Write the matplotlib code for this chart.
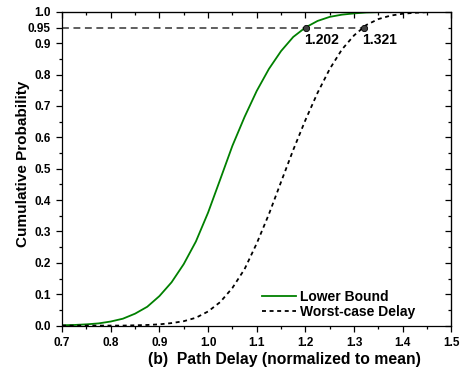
import matplotlib
matplotlib.use("Agg")
import matplotlib.pyplot as plt
from matplotlib.ticker import MultipleLocator

plt.rcParams['font.family'] = ['Liberation Sans', 'DejaVu Sans']
plt.rcParams['font.weight'] = 'bold'

# path delay (normalized to mean)
delay = [0.700, 0.725, 0.750, 0.775, 0.800, 0.825, 0.850, 0.875, 0.900, 0.925,
         0.950, 0.975, 1.000, 1.025, 1.050, 1.075, 1.100, 1.125, 1.150, 1.175,
         1.200, 1.225, 1.250, 1.275, 1.300, 1.325, 1.350, 1.375, 1.400, 1.425,
         1.450, 1.475, 1.500]

# cumulative probability
lower_bound = [0.001, 0.002, 0.004, 0.007, 0.013, 0.022, 0.038, 0.060, 0.094, 0.138,
               0.196, 0.268, 0.360, 0.466, 0.573, 0.665, 0.748, 0.818, 0.875, 0.920,
               0.950, 0.971, 0.984, 0.991, 0.995, 0.998, 0.999, 1.000, 1.000, 1.000,
               1.000, 1.000, 1.000]
worst_case = [0.000, 0.000, 0.000, 0.000, 0.000, 0.000, 0.001, 0.002, 0.004, 0.008,
              0.014, 0.025, 0.045, 0.075, 0.120, 0.180, 0.262, 0.355, 0.458, 0.560,
              0.655, 0.742, 0.818, 0.880, 0.925, 0.958, 0.977, 0.988, 0.994, 0.997,
              0.999, 1.000, 1.000]

# 95th percentile points
p95 = 0.95
p95_delay = [1.202, 1.321]
p95_labels = ['1.202', '1.321']

fig = plt.figure(figsize=(4.63, 3.70), dpi=100)
ax = fig.add_axes([0.134, 0.120, 0.841, 0.848])

ax.plot(delay, lower_bound, color='#008000', lw=1.3, label='Lower Bound')
ax.plot(delay, worst_case, color='black', lw=1.3, linestyle=(0, (2.2, 2.0)),
        label='Worst-case Delay')

# 0.95 reference line and markers
ax.plot([0.7, max(p95_delay)], [p95, p95], color='#333333', lw=1.1,
        linestyle=(0, (4.5, 3.0)))
ax.plot(p95_delay, [p95] * len(p95_delay), 'o', ms=4.5, color='#404040',
        mec='black', mew=0.6)
for xv, lab in zip(p95_delay, p95_labels):
    ax.text(xv - 0.005, p95 - 0.018, lab, ha='left', va='top', fontsize=10,
            fontweight='bold')

ax.set_xlim(0.7, 1.5)
ax.set_ylim(0.0, 1.0)
ax.set_xticks([0.7, 0.8, 0.9, 1.0, 1.1, 1.2, 1.3, 1.4, 1.5])
ax.set_yticks([0.0, 0.1, 0.2, 0.3, 0.4, 0.5, 0.6, 0.7, 0.8, 0.9, 0.95, 1.0])
ax.set_yticklabels(['0.0', '0.1', '0.2', '0.3', '0.4', '0.5', '0.6', '0.7',
                    '0.8', '0.9', '0.95', '1.0'])
ax.xaxis.set_minor_locator(MultipleLocator(0.05))
ax.yaxis.set_minor_locator(MultipleLocator(0.05))
ax.tick_params(which='major', direction='out', length=4.5, width=0.9,
               labelsize=8.5)
ax.tick_params(which='minor', direction='out', length=2.5, width=0.9)
for lab in ax.get_xticklabels() + ax.get_yticklabels():
    lab.set_fontweight('bold')

# mirrored ticks on top and right, pointing inward
top = ax.secondary_xaxis('top')
top.set_xticks([0.7, 0.8, 0.9, 1.0, 1.1, 1.2, 1.3, 1.4, 1.5])
top.xaxis.set_minor_locator(MultipleLocator(0.05))
top.tick_params(which='major', direction='in', length=4.5, width=0.9,
                labeltop=False)
top.tick_params(which='minor', direction='in', length=2.5, width=0.9)
right = ax.secondary_yaxis('right')
right.set_yticks([0.0, 0.1, 0.2, 0.3, 0.4, 0.5, 0.6, 0.7, 0.8, 0.9, 1.0])
right.yaxis.set_minor_locator(MultipleLocator(0.05))
right.tick_params(which='major', direction='in', length=4.5, width=0.9,
                  labelright=False)
right.tick_params(which='minor', direction='in', length=2.5, width=0.9)

for sp in ax.spines.values():
    sp.set_linewidth(0.9)

ax.set_xlabel('(b)  Path Delay (normalized to mean)', fontsize=11.3,
              fontweight='bold')
ax.set_ylabel('Cumulative Probability', fontsize=11, fontweight='bold')
ax.xaxis.set_label_coords(0.570, -0.084)
ax.yaxis.set_label_coords(-0.082, 0.517)

leg = ax.legend(loc='lower left', bbox_to_anchor=(0.513, 0.02), frameon=False,
                fontsize=10, handlelength=2.45, handletextpad=0.3,
                labelspacing=0.1, borderpad=0, borderaxespad=0)
for t in leg.get_texts():
    t.set_fontweight('bold')

fig.savefig('out.png', dpi=100)
